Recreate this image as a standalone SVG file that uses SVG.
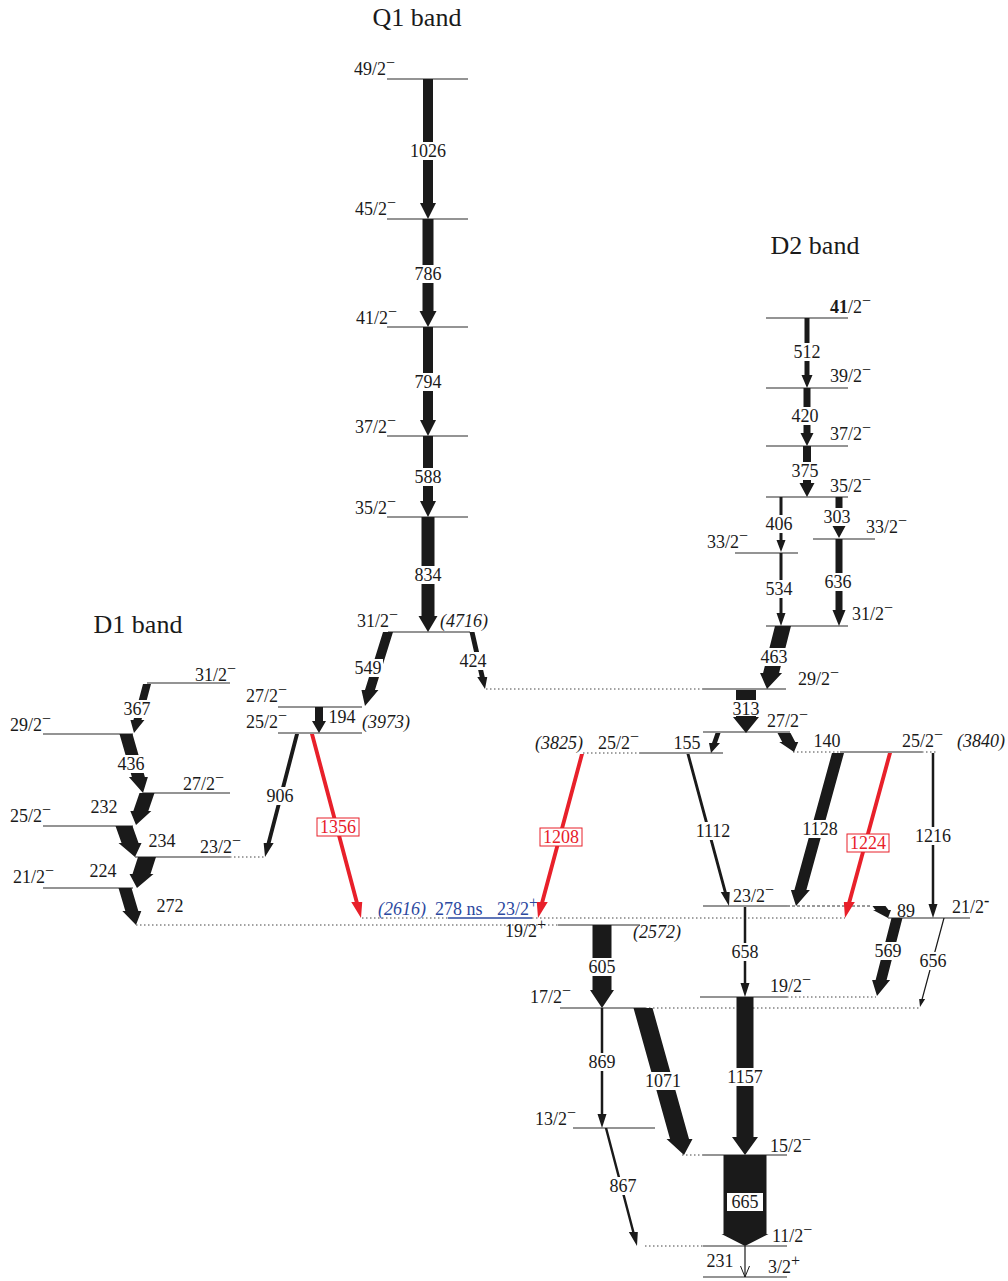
<svg xmlns="http://www.w3.org/2000/svg" width="1008" height="1281" viewBox="0 0 1008 1281">
<style>
.t{font-family:"Liberation Serif","Times New Roman",serif;font-size:18px;fill:#1a1a1a}
.m{text-anchor:middle}
.i{font-style:italic}
.sp{font-size:16px}
.big{font-size:26px}
.blue{fill:#2b48a0}
.rt{fill:#e8202a}
.lv{stroke:#2a2a2a;stroke-width:1.1;fill:none}
.dt{stroke:#444;stroke-width:1;stroke-dasharray:1.5 2.5;fill:none}
.ds{stroke:#333;stroke-width:1;stroke-dasharray:3 2;fill:none}
.bl{stroke:#2b48a0;stroke-width:1.3}
.ar{fill:#1a1a1a}
.red{fill:#e8202a}
.bg{fill:#fff}
.rb{fill:#fff;stroke:#e8202a;stroke-width:1}
</style>
<rect width="1008" height="1281" fill="#fff"/>

<!-- band titles -->
<text class="t big m" x="417" y="26">Q1 band</text>
<text class="t big m" x="815" y="254">D2 band</text>
<text class="t big m" x="138" y="633">D1 band</text>

<!-- Q1 band levels -->
<g id="q1-49"><line class="lv" x1="387" y1="79" x2="468" y2="79"/><text class="t" x="354" y="75">49/2<tspan class="sp" dy="-7">−</tspan></text></g>
<g id="q1-45"><line class="lv" x1="387" y1="219" x2="468" y2="219"/><text class="t" x="355" y="215">45/2<tspan class="sp" dy="-7">−</tspan></text></g>
<g id="q1-41"><line class="lv" x1="387" y1="327" x2="468" y2="327"/><text class="t" x="356" y="324">41/2<tspan class="sp" dy="-7">−</tspan></text></g>
<g id="q1-37"><line class="lv" x1="387" y1="436" x2="468" y2="436"/><text class="t" x="355" y="433">37/2<tspan class="sp" dy="-7">−</tspan></text></g>
<g id="q1-35"><line class="lv" x1="387" y1="517" x2="468" y2="517"/><text class="t" x="355" y="514">35/2<tspan class="sp" dy="-7">−</tspan></text></g>
<g id="q1-31"><line class="lv" x1="388" y1="632" x2="470" y2="632"/><text class="t" x="357" y="627">31/2<tspan class="sp" dy="-7">−</tspan></text><text class="t i" x="440" y="627">(4716)</text></g>

<!-- D2 band levels -->
<g id="d2-41"><line class="lv" x1="766" y1="318" x2="848" y2="318"/><text class="t" x="830" y="313"><tspan font-weight="bold">41</tspan>/2<tspan class="sp" dy="-7">−</tspan></text></g>
<g id="d2-39"><line class="lv" x1="766" y1="388" x2="848" y2="388"/><text class="t" x="830" y="382">39/2<tspan class="sp" dy="-7">−</tspan></text></g>
<g id="d2-37"><line class="lv" x1="766" y1="446" x2="848" y2="446"/><text class="t" x="830" y="440">37/2<tspan class="sp" dy="-7">−</tspan></text></g>
<g id="d2-35"><line class="lv" x1="766" y1="497" x2="848" y2="497"/><text class="t" x="830" y="492">35/2<tspan class="sp" dy="-7">−</tspan></text></g>
<g id="d2-33b"><line class="lv" x1="813" y1="539" x2="875" y2="539"/><text class="t" x="866" y="533">33/2<tspan class="sp" dy="-7">−</tspan></text></g>
<g id="d2-33a"><line class="lv" x1="735" y1="553" x2="798" y2="553"/><text class="t" x="707" y="548">33/2<tspan class="sp" dy="-7">−</tspan></text></g>
<g id="d2-31"><line class="lv" x1="766" y1="626" x2="848" y2="626"/><text class="t" x="852" y="620">31/2<tspan class="sp" dy="-7">−</tspan></text></g>
<g id="d2-29"><line class="dt" x1="486" y1="689" x2="703" y2="689"/><line class="lv" x1="703" y1="689" x2="786" y2="689"/><text class="t" x="798" y="685">29/2<tspan class="sp" dy="-7">−</tspan></text></g>
<g id="d2-27"><line class="lv" x1="703" y1="732" x2="790" y2="732"/><text class="t" x="767" y="727">27/2<tspan class="sp" dy="-7">−</tspan></text></g>
<g id="lvl-3840"><line class="dt" x1="793" y1="752" x2="840" y2="752"/><line class="lv" x1="840" y1="752" x2="922" y2="752"/><line class="dt" x1="922" y1="752" x2="936" y2="752"/><text class="t" x="902" y="747">25/2<tspan class="sp" dy="-7">−</tspan></text><text class="t i" x="957" y="747">(3840)</text></g>
<g id="lvl-3825"><line class="dt" x1="583" y1="753" x2="640" y2="753"/><line class="lv" x1="640" y1="753" x2="723" y2="753"/><text class="t i" x="535" y="749">(3825)</text><text class="t" x="598" y="749">25/2<tspan class="sp" dy="-7">−</tspan></text></g>

<!-- central levels -->
<g id="c-27"><line class="lv" x1="278" y1="707" x2="362" y2="707"/><text class="t" x="246" y="702">27/2<tspan class="sp" dy="-7">−</tspan></text></g>
<g id="c-25"><line class="lv" x1="278" y1="733" x2="362" y2="733"/><text class="t" x="246" y="728">25/2<tspan class="sp" dy="-7">−</tspan></text><text class="t i" x="362" y="728">(3973)</text></g>
<g id="c-23m"><line class="lv" x1="703" y1="906" x2="787" y2="906"/><line class="ds" x1="787" y1="906" x2="872" y2="906"/><text class="t" x="733" y="902">23/2<tspan class="sp" dy="-7">−</tspan></text></g>
<g id="iso-2616"><line class="dt" x1="362" y1="918" x2="448" y2="918"/><line class="bl" x1="448" y1="918" x2="532" y2="918"/><line class="dt" x1="532" y1="918" x2="845" y2="918"/><text class="t i blue" x="378" y="915">(2616)</text><text class="t blue" x="435" y="915" font-size="20">278 ns</text><text class="t blue" x="497" y="915">23/2<tspan class="sp" dy="-7">+</tspan></text></g>
<g id="c-21r"><line class="lv" x1="888" y1="918" x2="970" y2="918" stroke="#666"/><text class="t" x="952" y="913">21/2<tspan class="sp" font-weight="bold" dy="-7">-</tspan></text></g>
<g id="lvl-2572"><line class="dt" x1="136" y1="925" x2="558" y2="925"/><line class="lv" x1="558" y1="925" x2="640" y2="925"/><text class="t" x="505" y="937">19/2<tspan class="sp" dy="-7">+</tspan></text><text class="t i" x="633" y="938">(2572)</text></g>
<g id="c-19m"><line class="lv" x1="700" y1="997" x2="787" y2="997"/><line class="dt" x1="787" y1="997" x2="876" y2="997"/><text class="t" x="770" y="992">19/2<tspan class="sp" dy="-7">−</tspan></text></g>
<g id="c-17"><line class="lv" x1="560" y1="1008" x2="645" y2="1008"/><line class="dt" x1="645" y1="1008" x2="920" y2="1008"/><text class="t" x="530" y="1003">17/2<tspan class="sp" dy="-7">−</tspan></text></g>
<g id="c-13"><line class="lv" x1="573" y1="1128" x2="655" y2="1128"/><text class="t" x="535" y="1125">13/2<tspan class="sp" dy="-7">−</tspan></text></g>
<g id="c-15"><line class="dt" x1="682" y1="1155" x2="703" y2="1155"/><line class="lv" x1="703" y1="1155" x2="787" y2="1155"/><text class="t" x="770" y="1152">15/2<tspan class="sp" dy="-7">−</tspan></text></g>
<g id="c-11"><line class="dt" x1="645" y1="1246" x2="703" y2="1246"/><line class="lv" x1="703" y1="1246" x2="787" y2="1246"/><text class="t" x="772" y="1242">11/2<tspan class="sp" dy="-7">−</tspan></text></g>
<g id="c-3"><line class="lv" x1="703" y1="1277" x2="787" y2="1277"/><text class="t" x="768" y="1273">3/2<tspan class="sp" dy="-7">+</tspan></text></g>

<!-- D1 band levels -->
<g id="d1-31"><line class="lv" x1="147" y1="683" x2="230" y2="683"/><text class="t" x="195" y="681">31/2<tspan class="sp" dy="-7">−</tspan></text></g>
<g id="d1-29"><line class="lv" x1="43" y1="734" x2="133" y2="734"/><text class="t" x="10" y="731">29/2<tspan class="sp" dy="-7">−</tspan></text></g>
<g id="d1-27"><line class="lv" x1="143" y1="793" x2="230" y2="793"/><text class="t" x="183" y="790">27/2<tspan class="sp" dy="-7">−</tspan></text></g>
<g id="d1-25"><line class="lv" x1="43" y1="826" x2="133" y2="826"/><text class="t" x="10" y="822">25/2<tspan class="sp" dy="-7">−</tspan></text></g>
<g id="d1-23"><line class="lv" x1="135" y1="857" x2="230" y2="857"/><line class="dt" x1="230" y1="857" x2="265" y2="857"/><text class="t" x="200" y="853">23/2<tspan class="sp" dy="-7">−</tspan></text></g>
<g id="d1-21"><line class="lv" x1="43" y1="888" x2="133" y2="888"/><text class="t" x="13" y="883">21/2<tspan class="sp" dy="-7">−</tspan></text></g>

<!-- transitions -->
<g id="transitions">
<!-- Q1 -->
<path class="ar" transform="translate(428,79)" d="M-5,0 H5 V124 H8 L0,140 L-8,124 H-5 Z"/>
<path class="ar" transform="translate(428,219)" d="M-5.5,0 H5.5 V92 H8.5 L0,108 L-8.5,92 H-5.5 Z"/>
<path class="ar" transform="translate(428,327)" d="M-5,0 H5 V93 H8 L0,109 L-8,93 H-5 Z"/>
<path class="ar" transform="translate(428,436)" d="M-5,0 H5 V65 H8 L0,81 L-8,65 H-5 Z"/>
<path class="ar" transform="translate(428,517)" d="M-6.5,0 H6.5 V99 H9.5 L0,115 L-9.5,99 H-6.5 Z"/>
<rect class="bg" x="408" y="142" width="40" height="18"/><text class="t m" x="428" y="157">1026</text>
<rect class="bg" x="413" y="265" width="30" height="18"/><text class="t m" x="428" y="280">786</text>
<rect class="bg" x="413" y="373" width="30" height="18"/><text class="t m" x="428" y="388">794</text>
<rect class="bg" x="413" y="468" width="30" height="18"/><text class="t m" x="428" y="483">588</text>
<rect class="bg" x="413" y="566" width="30" height="18"/><text class="t m" x="428" y="581">834</text>

<!-- D2 -->
<path class="ar" transform="translate(807,318)" d="M-2.5,0 H2.5 V57 H5.5 L0,70 L-5.5,57 H-2.5 Z"/>
<path class="ar" transform="translate(807,388)" d="M-3.5,0 H3.5 V45 H6.5 L0,58 L-6.5,45 H-3.5 Z"/>
<path class="ar" transform="translate(807,446)" d="M-4,0 H4 V37 H7.5 L0,51 L-7.5,37 H-4 Z"/>
<path class="ar" transform="translate(781,497)" d="M-1.5,0 H1.5 V43 H4.5 L0,55 L-4.5,43 H-1.5 Z"/>
<path class="ar" transform="translate(839,497)" d="M-3.5,0 H3.5 V29 H6.5 L0,41 L-6.5,29 H-3.5 Z"/>
<path class="ar" transform="translate(781,553)" d="M-1.5,0 H1.5 V60 H4.5 L0,73 L-4.5,60 H-1.5 Z"/>
<path class="ar" transform="translate(839,539)" d="M-3.5,0 H3.5 V71 H6.5 L0,87 L-6.5,71 H-3.5 Z"/>
<path class="ar" transform="translate(783,626) skewX(-14.25)" d="M-8,0 H8 V47 H11 L0,63 L-11,47 H-8 Z"/>
<rect class="bg" x="792" y="343" width="30" height="18"/><text class="t m" x="807" y="358">512</text>
<rect class="bg" x="790" y="407" width="30" height="18"/><text class="t m" x="805" y="422">420</text>
<rect class="bg" x="790" y="462" width="30" height="18"/><text class="t m" x="805" y="477">375</text>
<rect class="bg" x="764" y="515" width="30" height="18"/><text class="t m" x="779" y="530">406</text>
<rect class="bg" x="822" y="508" width="30" height="18"/><text class="t m" x="837" y="523">303</text>
<rect class="bg" x="764" y="580" width="30" height="18"/><text class="t m" x="779" y="595">534</text>
<rect class="bg" x="823" y="573" width="30" height="18"/><text class="t m" x="838" y="588">636</text>
<rect class="bg" x="759" y="648" width="30" height="18"/><text class="t m" x="774" y="663">463</text>

<!-- Central upper -->
<path class="ar" transform="translate(388,632) skewX(-17.27)" d="M-5,0 H5 V58 H8.5 L0,74 L-8.5,58 H-5 Z"/>
<rect class="bg" x="353" y="659" width="30" height="18"/><text class="t m" x="368" y="674">549</text>
<path class="ar" transform="translate(472,632) skewX(12.85)" d="M-2.5,0 H2.5 V45 H5 L0,57 L-5,45 H-2.5 Z"/>
<rect class="bg" x="458" y="652" width="30" height="18"/><text class="t m" x="473" y="667">424</text>
<path class="ar" transform="translate(319,707)" d="M-4,0 H4 V14 H7 L0,26 L-7,14 H-4 Z"/>
<text class="t m" x="342" y="723">194</text>
<path class="ar" transform="translate(297,734) skewX(-14.58)" d="M-2,0 H2 V109 H5 L0,123 L-5,109 H-2 Z"/>
<rect class="bg" x="265" y="787" width="30" height="18"/><text class="t m" x="280" y="802">906</text>
<path class="red" transform="translate(312,734) skewX(14.91)" d="M-2,0 H2 V168 H5.5 L0,184 L-5.5,168 H-2 Z"/>
<rect class="rb" x="317" y="818" width="42" height="18"/><text class="t m rt" x="338" y="833">1356</text>

<path class="red" transform="translate(582,754) skewX(-15.02)" d="M-2,0 H2 V148 H5.5 L0,164 L-5.5,148 H-2 Z"/>
<rect class="rb" x="540" y="828" width="42" height="18"/><text class="t m rt" x="561" y="843">1208</text>

<path class="ar" transform="translate(746,690)" d="M-10,0 H10 V27 H13 L0,43 L-13,27 H-10 Z"/>
<rect class="bg" x="731" y="700" width="30" height="16"/><text class="t m" x="746" y="715">313</text>
<path class="ar" transform="translate(718,733) skewX(-19.29)" d="M-2.5,0 H2.5 V10 H5.5 L0,20 L-5.5,10 H-2.5 Z"/>
<text class="t m" x="687" y="749">155</text>
<path class="ar" transform="translate(784,733) skewX(27.76)" d="M-6.5,0 H6.5 V9 H9.5 L0,19 L-9.5,9 H-6.5 Z"/>
<text class="t m" x="827" y="747">140</text>

<path class="ar" transform="translate(688,754) skewX(15.10)" d="M-1.5,0 H1.5 V138 H4.5 L0,152 L-4.5,138 H-1.5 Z"/>
<rect class="bg" x="694" y="822" width="39" height="18"/><text class="t m" x="713" y="837">1112</text>
<path class="ar" transform="translate(838,753) skewX(-15.35)" d="M-6,0 H6 V137 H9.5 L0,153 L-9.5,137 H-6 Z"/>
<rect class="bg" x="801" y="820" width="39" height="18"/><text class="t m" x="820" y="835">1128</text>
<path class="red" transform="translate(890,753) skewX(-15.26)" d="M-2,0 H2 V149 H5.5 L0,165 L-5.5,149 H-2 Z"/>
<rect class="rb" x="847" y="834" width="42" height="18"/><text class="t m rt" x="868" y="849">1224</text>
<path class="ar" transform="translate(933,753)" d="M-1.25,0 H1.25 V151 H4.5 L0,165 L-4.5,151 H-1.25 Z"/>
<rect class="bg" x="914" y="827" width="39" height="18"/><text class="t m" x="933" y="842">1216</text>

<path class="ar" transform="translate(745,907)" d="M-1.25,0 H1.25 V76 H4.5 L0,90 L-4.5,76 H-1.25 Z"/>
<rect class="bg" x="730" y="943" width="30" height="18"/><text class="t m" x="745" y="958">658</text>
<path class="ar" transform="translate(879,906) skewX(36.87)" d="M-6.5,0 H6.5 V4 H9 L0,12 L-9,4 H-6.5 Z"/>
<text class="t m" x="906" y="917">89</text>
<path class="ar" transform="translate(897,918) skewX(-14.38)" d="M-5.5,0 H5.5 V62 H9 L0,78 L-9,62 H-5.5 Z"/>
<rect class="bg" x="873" y="942" width="30" height="18"/><text class="t m" x="888" y="957">569</text>
<path class="ar" transform="translate(944,918) skewX(-15.09)" d="M-0.65,0 H0.65 V81 H3 L0,89 L-3,81 H-0.65 Z"/>
<rect class="bg" x="918" y="952" width="30" height="18"/><text class="t m" x="933" y="967">656</text>

<!-- lower -->
<path class="ar" transform="translate(602,925)" d="M-9.5,0 H9.5 V65 H12 L0,83 L-12,65 H-9.5 Z"/>
<rect class="bg" x="587" y="958" width="30" height="18"/><text class="t m" x="602" y="973">605</text>
<path class="ar" transform="translate(602,1008)" d="M-1.25,0 H1.25 V106 H4.5 L0,120 L-4.5,106 H-1.25 Z"/>
<rect class="bg" x="587" y="1053" width="30" height="18"/><text class="t m" x="602" y="1068">869</text>
<path class="ar" transform="translate(643,1008) skewX(15.58)" d="M-9.5,0 H9.5 V131 H13 L0,147 L-13,131 H-9.5 Z"/>
<rect class="bg" x="644" y="1072" width="39" height="18"/><text class="t m" x="663" y="1087">1071</text>
<path class="ar" transform="translate(745,997)" d="M-8.5,0 H8.5 V140 H13 L0,158 L-13,140 H-8.5 Z"/>
<rect class="bg" x="726" y="1068" width="39" height="18"/><text class="t m" x="745" y="1083">1157</text>
<path class="ar" transform="translate(745,1155)" d="M-21.5,0 H21.5 V79 H23.5 L0,91 L-23.5,79 H-21.5 Z"/>
<rect class="bg" x="727" y="1193" width="36" height="18"/><text class="t m" x="745" y="1208">665</text>
<path class="ar" transform="translate(606,1128) skewX(14.72)" d="M-1.25,0 H1.25 V104 H4.5 L0,118 L-4.5,104 H-1.25 Z"/>
<rect class="bg" x="608" y="1177" width="30" height="18"/><text class="t m" x="623" y="1192">867</text>
<line x1="745" y1="1246" x2="745" y2="1277" stroke="#1a1a1a" stroke-width="1.2"/>
<polyline points="740.5,1266 745,1277 749.5,1266" fill="none" stroke="#1a1a1a" stroke-width="1"/>
<text class="t m" x="720" y="1267">231</text>

<!-- D1 -->
<path class="ar" transform="translate(147,684) skewX(-14.86)" d="M-4,0 H4 V36 H7 L0,49 L-7,36 H-4 Z"/>
<rect class="bg" x="122" y="700" width="30" height="18"/><text class="t m" x="137" y="715">367</text>
<path class="ar" transform="translate(126,734) skewX(16.07)" d="M-6.5,0 H6.5 V43 H9.5 L0,59 L-9.5,43 H-6.5 Z"/>
<rect class="bg" x="116" y="755" width="30" height="18"/><text class="t m" x="131" y="770">436</text>
<path class="ar" transform="translate(147,793) skewX(-18.97)" d="M-7.5,0 H7.5 V18 H10.5 L0,32 L-10.5,18 H-7.5 Z"/>
<text class="t m" x="104" y="813">232</text>
<path class="ar" transform="translate(124,826) skewX(19.54)" d="M-8.5,0 H8.5 V17 H11.5 L0,31 L-11.5,17 H-8.5 Z"/>
<text class="t m" x="162" y="847">234</text>
<path class="ar" transform="translate(147,857) skewX(-17.88)" d="M-9,0 H9 V17 H12 L0,31 L-12,17 H-9 Z"/>
<text class="t m" x="103" y="877">224</text>
<path class="ar" transform="translate(125,888) skewX(16.56)" d="M-6.5,0 H6.5 V23 H9.5 L0,37 L-9.5,23 H-6.5 Z"/>
<text class="t m" x="170" y="912">272</text>
</g>
</svg>
